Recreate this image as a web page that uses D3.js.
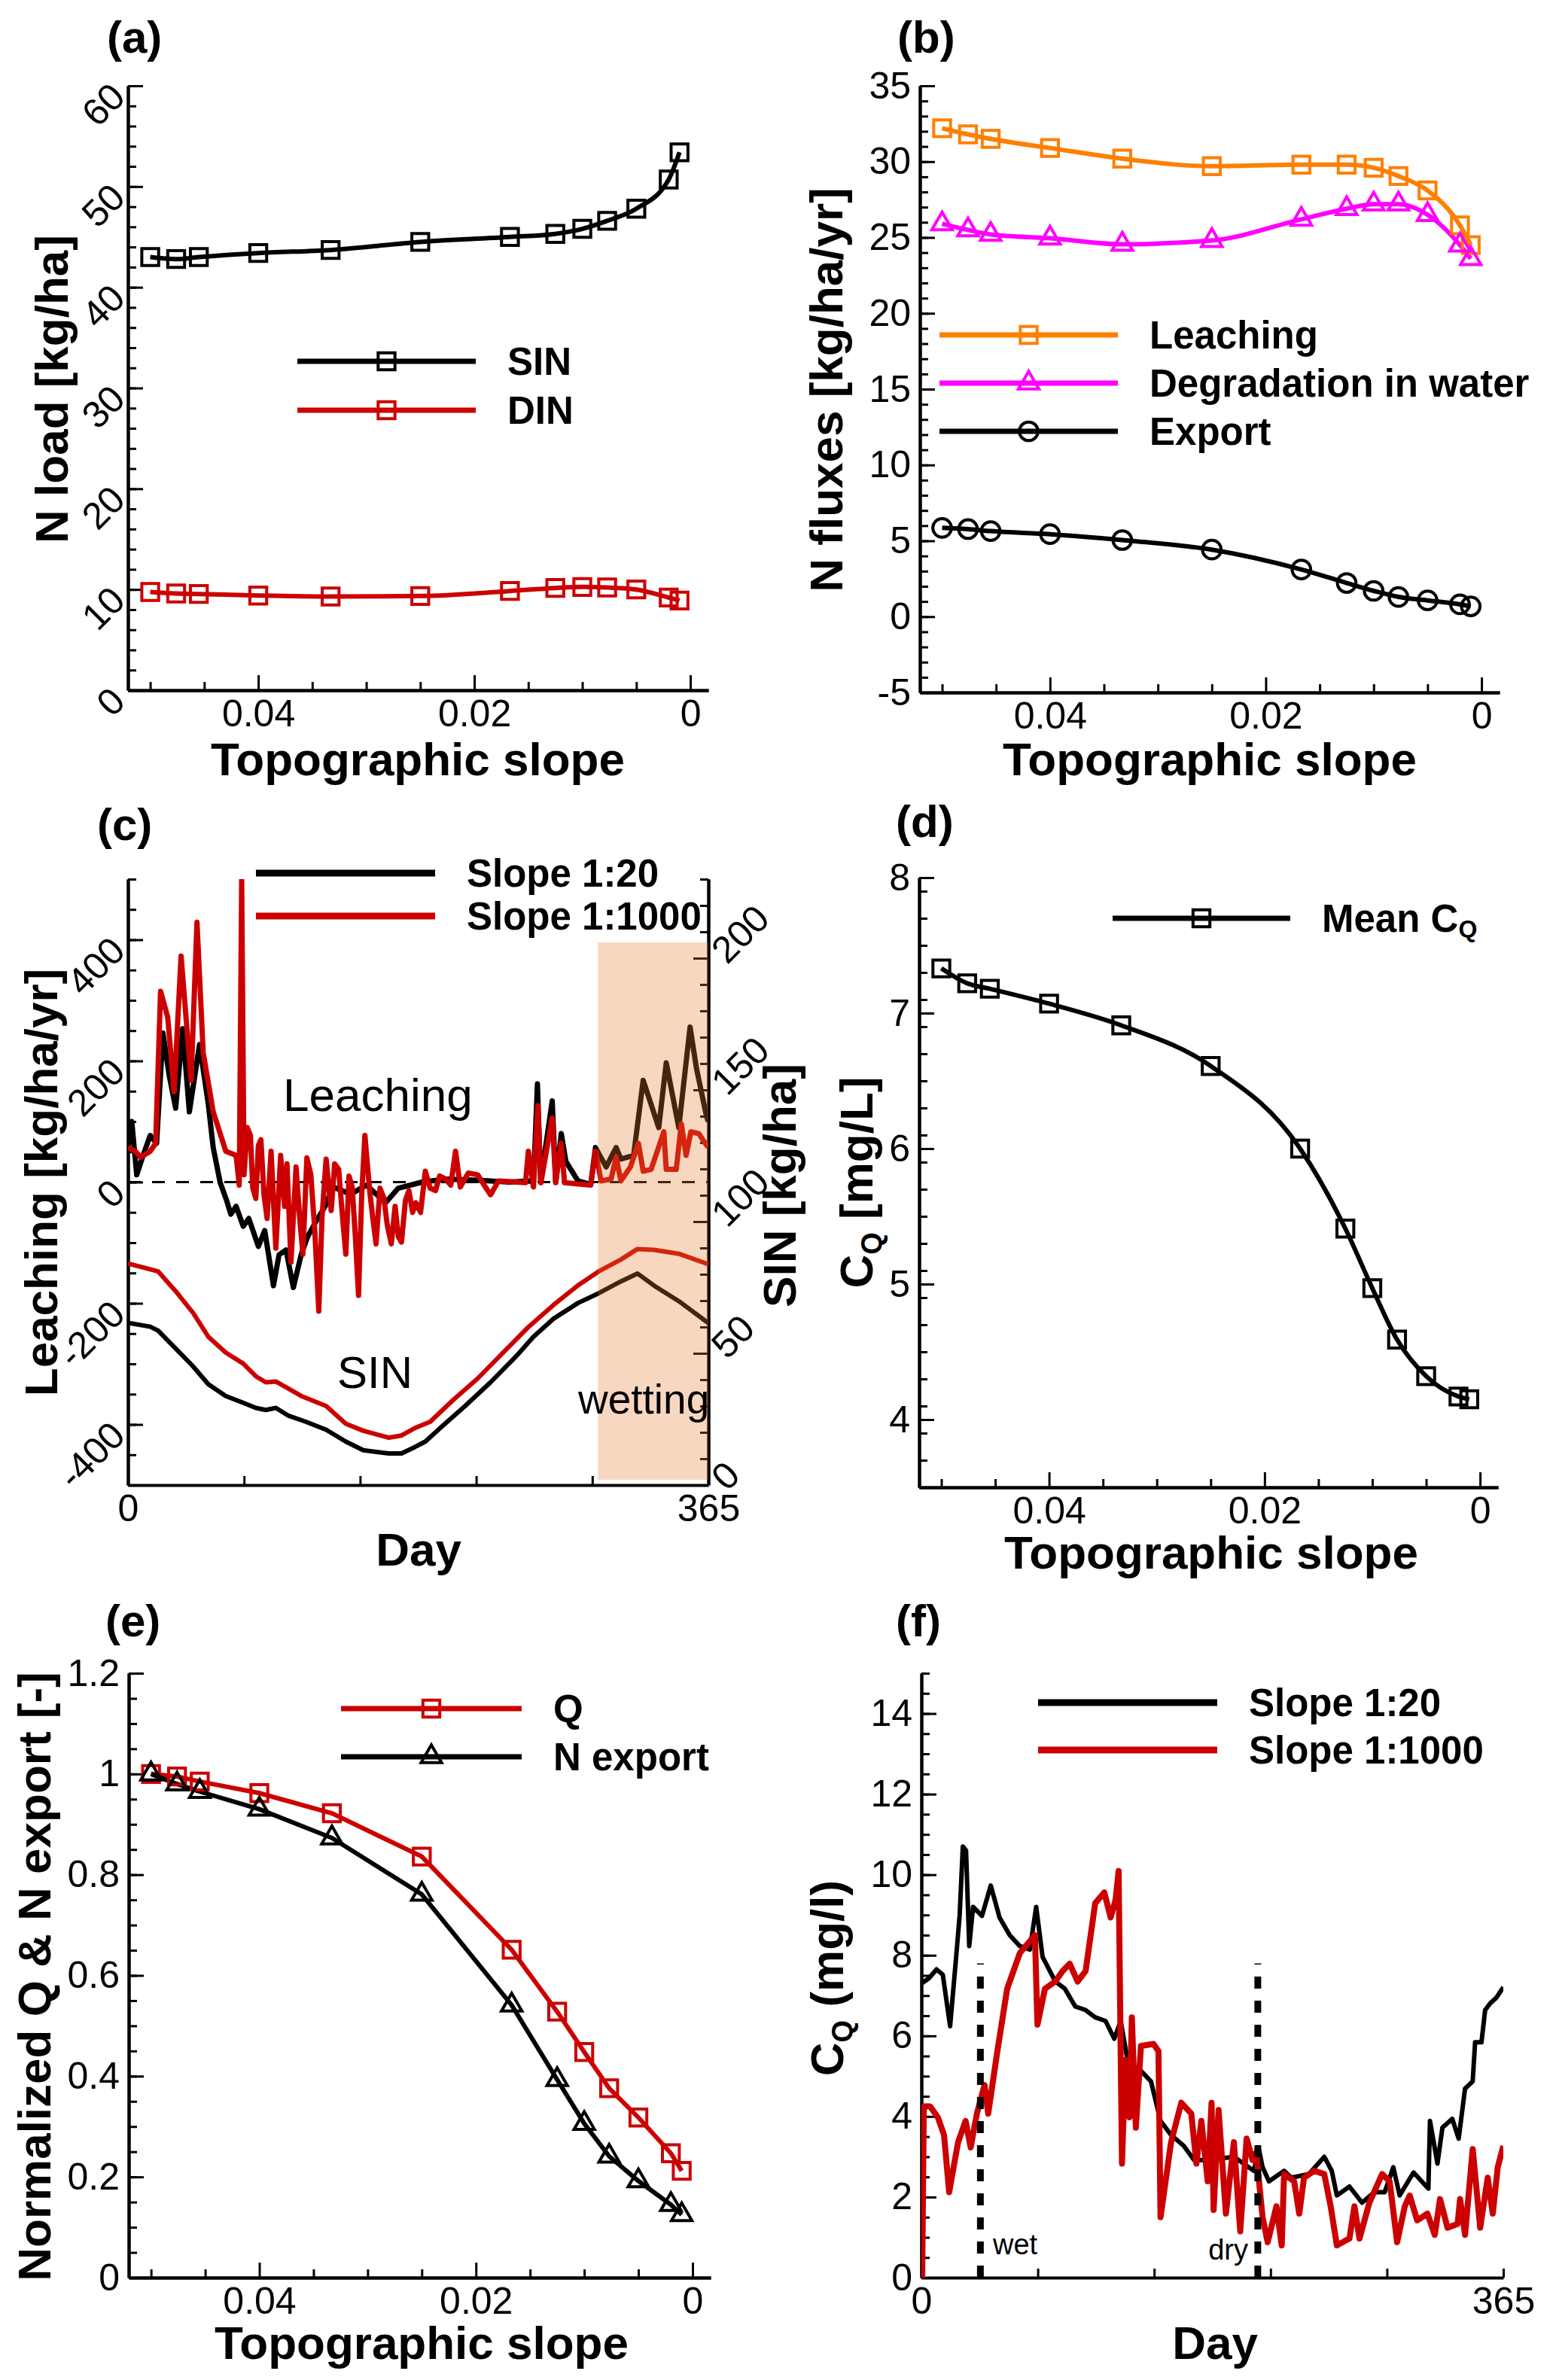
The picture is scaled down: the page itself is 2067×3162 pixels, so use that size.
<!DOCTYPE html>
<html>
<head>
<meta charset="utf-8">
<script src="https://cdn.jsdelivr.net/npm/d3@7"></script>
<style>
body{margin:0;background:#fff}
text{font-family:"Liberation Sans",Arial,Helvetica,sans-serif}
</style>
</head>
<body>
<svg id="fig" width="2067" height="3162"></svg>
<script>
// ---------- data ----------
// topographic slopes of the 13 simulated hillslopes (1:20 ... 1:1000)
var slopes = [0.05, 0.0476, 0.0455, 0.04, 0.0333, 0.025, 0.0167, 0.0125, 0.01, 0.0077, 0.005, 0.002, 0.001];

// (a) N load [kg/ha]
var sinLoad = [43.0, 42.8, 43.0, 43.4, 43.7, 44.5, 45.0, 45.3, 45.8, 46.6, 47.8, 50.7, 53.4];
var dinLoad = [9.75, 9.6, 9.55, 9.4, 9.3, 9.35, 9.85, 10.15, 10.25, 10.2, 10.0, 9.2, 8.9];

// (b) N fluxes [kg/ha/yr]
var leachFlux  = [32.2, 31.8, 31.5, 30.9, 30.2, 29.7, 29.8, 29.8, 29.6, 29.05, 28.1, 25.8, 24.5];
var degradFlux = [25.9, 25.5, 25.2, 24.95, 24.55, 24.8, 26.2, 26.9, 27.2, 27.2, 26.5, 24.5, 23.6];
var exportFlux = [5.85, 5.77, 5.64, 5.44, 5.05, 4.42, 3.11, 2.22, 1.7, 1.3, 1.07, 0.81, 0.68];

// (d) mean CQ [mg/L]
var meanCQ = [7.33, 7.22, 7.18, 7.07, 6.91, 6.61, 6.0, 5.41, 4.97, 4.59, 4.32, 4.17, 4.15];

// (e) normalized Q and N export
var normQ       = [1.0, 0.995, 0.985, 0.962, 0.922, 0.836, 0.651, 0.528, 0.448, 0.376, 0.318, 0.247, 0.212];
var normNexport = [1.0, 0.98, 0.965, 0.93, 0.873, 0.761, 0.541, 0.393, 0.306, 0.241, 0.192, 0.145, 0.125];

// (c) leaching [kg/ha/yr] by day, [day, value]
var leach20 = [[0,57],[2.4,100],[5.5,12],[9.5,44],[14,77],[18,64],[22,246],[26,175],[30,122],[34.4,253],[38.6,116],[45,227],[50.5,129],[53.6,57],[58,-1],[62,-30],[64.7,-53],[68,-40],[72.5,-73],[76,-60],[82,-106],[86,-80],[91.5,-171],[95,-120],[99.4,-112],[104,-174],[109,-119],[113,-90],[118,-66],[124,-40],[129,-8],[140,-20],[150,-5],[162,-34],[170,-10],[185,0],[200,5],[220,3],[240,0],[252,2],[255,0],[257.5,162],[259.5,0],[266.8,134],[269,0],[272.5,80],[275.4,34],[283,2],[291,-4],[294,57],[300.7,25],[307,57],[310,38],[318,44],[324,168],[333.8,90],[338.5,197],[346.4,90],[353.5,256],[357.5,188],[363.8,109],[365,100]];
var leach1000 = [[0,57],[4.7,51],[7.9,41],[14,51],[17.4,64],[20.5,315],[25,272],[29,149],[33.4,373],[39.7,168],[43.4,429],[47.3,214],[53.6,116],[58,80],[61.5,51],[68,44],[70,-5],[71.5,500],[73,12],[75,90],[77,77],[78.5,-10],[80.4,-27],[82,60],[83.6,70],[85.5,-20],[87.5,-60],[90,51],[91.5,-30],[93,-109],[96,44],[98.5,-40],[100,30],[102.5,-132],[105.7,25],[108,-60],[110,-119],[112.5,40],[115,12],[117.5,-80],[120,-213],[122,-60],[124.6,38],[127.8,-47],[130,30],[132.5,21],[135,-60],[137,-119],[139,10],[141,-8],[143,-90],[145,-187],[147,-20],[149,77],[152,-14],[154,-60],[156,-102],[158.5,-10],[161,-27],[163,-70],[165.6,-102],[168,-40],[170,-90],[172,-99],[174.5,-30],[176.7,-14],[179,-50],[181,-34],[184,-50],[187,18],[190,-10],[193.4,-14],[196,10],[199.7,5],[203,-5],[206,51],[209,-8],[214,15],[220,12],[224,-5],[228,-21],[233,2],[250,-1],[251.8,51],[255,-8],[257.8,126],[259.7,-1],[266.8,106],[269,-1],[272.3,64],[274.6,-1],[291,-5],[294,51],[297.5,2],[303.8,5],[307,41],[310,2],[316,25],[321,64],[324,18],[329,21],[337,83],[338.5,21],[344.8,21],[348,96],[351,44],[354,83],[359,80],[363.8,61],[365,58]];
// (c) SIN [kg/ha] by day (right axis)
var sin20 = [[0,61.6],[14,60.1],[19,58.6],[30,51.8],[41,45.0],[50.5,38.3],[61.5,33.8],[72.5,31.2],[80.4,29.3],[86.7,28.5],[93,29.3],[101,26.3],[112,24.0],[124.6,21.0],[137,16.5],[148,13.2],[164,12.0],[172,12.0],[180,14.3],[187,16.5],[196.6,21.8],[212,30.0],[228,39.0],[244,48.8],[255,56.3],[267.5,63.1],[283,69.1],[296,72.8],[310,77.3],[320.4,80.3],[330.6,75.8],[346.4,69.8],[365,61.5]];
var sin1000 = [[0,84.1],[19,81.1],[30,73.6],[41,65.3],[50.5,56.3],[61.5,50.3],[72.5,46.1],[80.4,41.3],[86.7,39.0],[93,39.3],[109,33.8],[124.6,30.0],[137,23.3],[148,20.6],[164,18.0],[172,18.8],[181,21.8],[190,24.0],[204.5,32.3],[220,40.5],[236,50.3],[252,60.1],[267.5,68.3],[283,75.8],[296,81.1],[310,85.6],[320.4,89.6],[330.6,89.3],[346.4,87.8],[365,83.8]];
var wettingDays = [295.5, 365];

// (f) CQ [mg/l] by day
var cq20 = [[0,7.3],[4.7,7.43],[9.5,7.65],[13.4,7.52],[18,6.24],[22,8.05],[24,9.0],[26,10.7],[28,10.6],[30,8.23],[32.4,9.2],[38,8.98],[43.5,9.73],[49,8.94],[55.4,8.5],[61.7,8.23],[68,8.14],[72,9.2],[76,7.96],[84,7.35],[90,7.17],[96.5,6.73],[103,6.64],[109,6.46],[115.5,6.37],[121,5.93],[125,6.37],[129.7,5.31],[137.7,5.13],[144,4.87],[150,3.89],[156.6,3.54],[164.6,3.27],[171,2.92],[180,2.92],[196,3.0],[208.5,2.65],[211.7,3.19],[214,2.74],[218,2.39],[227.5,2.65],[232,2.48],[243,2.57],[252.7,3.0],[257.4,2.65],[260.6,2.04],[268.5,2.26],[276.4,1.86],[284,2.12],[290.6,2.12],[296,2.74],[300,2.04],[308.7,2.61],[318,2.21],[319,3.89],[323.7,2.83],[326.8,3.72],[333,3.94],[337,3.45],[341,4.69],[345.8,4.87],[347.3,5.84],[351.3,5.84],[353.6,6.64],[356.8,6.81],[360.7,6.95],[365,7.21]];
var cq1000 = [[0.5,0],[1.5,4.25],[5.5,4.25],[10.3,3.98],[14.2,3.54],[17.4,2.12],[23,3.36],[27.7,3.89],[30.9,3.23],[34.8,4.07],[39.6,4.78],[41.9,4.07],[47.5,5.58],[53.8,7.17],[61.7,8.05],[71.2,8.5],[72.8,6.28],[77.5,7.17],[84,7.35],[88.6,7.61],[93,7.79],[98,7.35],[103,7.61],[109,9.29],[114.7,9.56],[118.7,8.94],[121.8,9.38],[123.7,10.09],[125.8,2.83],[128,5.4],[130.5,3.98],[132,6.46],[134.5,3.72],[137.7,5.75],[145.6,5.8],[148.7,5.62],[150,1.5],[156.6,3.36],[163,4.34],[169.3,4.07],[172.5,2.83],[175.6,3.89],[179.6,2.39],[182,4.34],[183.3,1.68],[186.4,4.16],[191,1.59],[196,3.36],[200,1.15],[204,3.45],[207.7,2.92],[210,3.1],[214,1.5],[217.2,0.88],[222.7,1.77],[226,0.8],[227.5,2.57],[233.8,2.39],[237,1.59],[240,2.48],[246.4,2.65],[252.7,2.57],[256.7,1.77],[260.6,0.8],[268.5,0.97],[271.6,1.77],[274.8,0.97],[281,1.86],[289,2.57],[293.7,2.39],[298.4,0.88],[303.2,1.77],[306.3,2.04],[311,1.42],[317.4,1.59],[322,1.06],[325.3,1.95],[330,1.24],[336.3,1.33],[337.9,1.95],[341,1.06],[345.8,3.19],[350.5,1.24],[355.2,2.48],[358.4,1.59],[361.5,2.74],[365,3.27]];
var wetDay = 37, dryDay = 211, markTop = 7.8;

// tick labels
var slopeTicks = [0.04, 0.02, 0];
var slopeMinor = [0.05, 0.045, 0.035, 0.03, 0.025, 0.015, 0.01, 0.005];
var dayTicks = [0, 73, 146, 219, 292, 365];
var dayLabels = [0, 365];

// ---------- helpers ----------
var svg = d3.select('#fig');
svg.append('rect').attr('width', 2067).attr('height', 3162).attr('fill', '#fff');

var RED = '#cc0000', ORANGE = '#ff7f00', MAGENTA = '#ff00ff';
var SYM = {square: d3.symbolSquare, circle: d3.symbolCircle, triangle: d3.symbolTriangle};
var SYMSIZE = {square: 500, circle: 480, triangle: 320};
var plain = function(d) { return String(d); };

function styleAxis(g) {
	g.attr('font-size', 50).attr('font-family', '"Liberation Sans",Arial,sans-serif');
	g.select('.domain').attr('stroke', '#000').attr('stroke-width', 4);
	g.selectAll('.tick line').attr('stroke', '#000').attr('stroke-width', 3);
	g.selectAll('.tick text').attr('fill', '#000');
}
// minor ticks carry no label, drop the empty text nodes
function noLabels(g) { g.selectAll('.tick text').remove(); }

function leftAxis(x0, y, major, minor, rot) {
	var g = svg.append('g').attr('transform', 'translate(' + x0 + ',0)');
	g.append('g').call(d3.axisLeft(y).tickValues(minor).tickSize(-11).tickSizeOuter(0)).call(styleAxis).call(noLabels);
	var m = g.append('g').call(d3.axisLeft(y).tickValues(major).tickSize(-20).tickSizeOuter(0).tickPadding(12).tickFormat(plain)).call(styleAxis);
	if (rot) {
		m.selectAll('.tick text').attr('x', 0).attr('dy', null).attr('dominant-baseline', 'central')
			.attr('transform', 'translate(-13,5) rotate(-45)');
	}
	return m;
}

function rightAxis(x0, y, major, minor) {
	var g = svg.append('g').attr('transform', 'translate(' + x0 + ',0)');
	g.append('g').call(d3.axisRight(y).tickValues(minor).tickSize(-11).tickSizeOuter(0)).call(styleAxis).call(noLabels);
	var m = g.append('g').call(d3.axisRight(y).tickValues(major).tickSize(-20).tickSizeOuter(0).tickFormat(plain)).call(styleAxis);
	m.selectAll('.tick text').attr('x', 0).attr('dy', null).attr('dominant-baseline', 'central')
		.attr('transform', 'translate(13,-3) rotate(-45)');
}

function slopeAxis(x, y0) {
	var g = svg.append('g').attr('transform', 'translate(0,' + y0 + ')');
	g.append('g').call(d3.axisBottom(x).tickValues(slopeMinor).tickSize(-11).tickSizeOuter(0)).call(styleAxis).call(noLabels);
	g.append('g').call(d3.axisBottom(x).tickValues(slopeTicks).tickSize(-20).tickSizeOuter(0).tickPadding(12).tickFormat(plain)).call(styleAxis);
}

function dayAxis(x, y0) {
	var g = svg.append('g').attr('transform', 'translate(0,' + y0 + ')');
	g.append('g').call(d3.axisBottom(x).tickValues(dayTicks).tickSize(-12).tickSizeOuter(0).tickPadding(12).tickFormat(plain)).call(styleAxis);
	g.selectAll('.tick text').filter(function(d) { return dayLabels.indexOf(d) < 0; }).remove();
}

function xSlope(left, right) { return d3.scaleLinear().domain([0.05206, -0.00167]).range([left, right]); }

function slopeLine(x, y, vals, color, smooth) {
	var line = d3.line().x(function(d, i) { return x(slopes[i]); }).y(function(d) { return y(d); });
	if (smooth) line.curve(d3.curveMonotoneX);
	svg.append('path').datum(vals).attr('d', line).attr('fill', 'none').attr('stroke', color).attr('stroke-width', 6);
}

function markers(x, y, vals, type, color) {
	svg.append('g').selectAll('path').data(vals).join('path')
		.attr('transform', function(d, i) { return 'translate(' + x(slopes[i]) + ',' + y(d) + ')'; })
		.attr('d', d3.symbol(SYM[type], SYMSIZE[type]))
		.attr('fill', 'none').attr('stroke', color).attr('stroke-width', 4);
}

function dayLine(x, y, pts, color, w, clip) {
	var line = d3.line().x(function(d) { return x(d[0]); }).y(function(d) { return y(d[1]); });
	svg.append('path').datum(pts).attr('d', line).attr('fill', 'none').attr('stroke', color)
		.attr('stroke-width', w).attr('stroke-linejoin', 'round').attr('clip-path', clip ? 'url(#' + clip + ')' : null);
}

function legendRow(x1, x2, y, color, lw, type, label) {
	svg.append('line').attr('x1', x1).attr('x2', x2).attr('y1', y).attr('y2', y).attr('stroke', color).attr('stroke-width', lw);
	if (type) {
		svg.append('path').attr('transform', 'translate(' + ((x1 + x2) / 2) + ',' + y + ')')
			.attr('d', d3.symbol(SYM[type], SYMSIZE[type])).attr('fill', 'none').attr('stroke', color).attr('stroke-width', 4);
	}
	return svg.append('text').attr('x', x2 + 42).attr('y', y).attr('dominant-baseline', 'central')
		.attr('font-weight', 'bold').attr('font-size', 51).text(label);
}

function yTitle(x, y, label) {
	return svg.append('text').attr('transform', 'translate(' + x + ',' + y + ') rotate(-90)')
		.attr('text-anchor', 'middle').attr('font-weight', 'bold').attr('font-size', 62).text(label);
}

function xTitle(x, y, label) {
	svg.append('text').attr('x', x).attr('y', y).attr('text-anchor', 'middle')
		.attr('font-weight', 'bold').attr('font-size', 62).text(label);
}

function panelLabel(x, y, label) {
	svg.append('text').attr('x', x).attr('y', y).attr('font-weight', 'bold').attr('font-size', 60).text(label);
}

// rotated title with a subscript Q, e.g. C_Q [mg/L]
function cqTitle(x, y, rest) {
	var t = svg.append('text').attr('transform', 'translate(' + x + ',' + y + ') rotate(-90)')
		.attr('text-anchor', 'middle').attr('font-weight', 'bold').attr('font-size', 62);
	t.append('tspan').text('C');
	t.append('tspan').attr('font-size', 38).attr('dy', 12).text('Q');
	t.append('tspan').attr('dy', -12).text(rest);
}

//---------------------(a)---------------------------------------------------
var xa = xSlope(170, 941), ya = d3.scaleLinear().domain([0, 60]).range([917, 114]);
leftAxis(170, ya, [0, 10, 20, 30, 40, 50, 60], d3.range(0, 61, 2), true);
slopeAxis(xa, 917);
slopeLine(xa, ya, sinLoad, '#000', true);
slopeLine(xa, ya, dinLoad, RED, true);
markers(xa, ya, sinLoad, 'square', '#000');
markers(xa, ya, dinLoad, 'square', RED);
legendRow(395, 632, 480, '#000', 7, 'square', 'SIN');
legendRow(395, 632, 545, RED, 7, 'square', 'DIN');
yTitle(90, 517, 'N load [kg/ha]');
xTitle(555, 1030, 'Topographic slope');
panelLabel(142, 70, '(a)');

//---------------------(b)---------------------------------------------------
var xb = xSlope(1222, 1992), yb = d3.scaleLinear().domain([-5, 35]).range([920, 114]);
leftAxis(1222, yb, [-5, 0, 5, 10, 15, 20, 25, 30, 35], d3.range(-5, 36, 1), false);
slopeAxis(xb, 920);
slopeLine(xb, yb, leachFlux, ORANGE, true);
slopeLine(xb, yb, degradFlux, MAGENTA, true);
slopeLine(xb, yb, exportFlux, '#000', true);
markers(xb, yb, leachFlux, 'square', ORANGE);
markers(xb, yb, degradFlux, 'triangle', MAGENTA);
markers(xb, yb, exportFlux, 'circle', '#000');
legendRow(1248, 1485, 445, ORANGE, 7, 'square', 'Leaching');
legendRow(1248, 1485, 509, MAGENTA, 7, 'triangle', 'Degradation in water');
legendRow(1248, 1485, 573, '#000', 7, 'circle', 'Export');
yTitle(1119, 518, 'N fluxes [kg/ha/yr]');
xTitle(1607, 1030, 'Topographic slope');
panelLabel(1192, 70, '(b)');

//---------------------(c)---------------------------------------------------
var xc = d3.scaleLinear().domain([0, 365]).range([170, 941]);
var ycL = d3.scaleLinear().domain([-500, 500]).range([1973, 1168]);
var ycR = d3.scaleLinear().domain([0, 230]).range([1973, 1168]);
svg.append('clipPath').attr('id', 'clipc').append('rect')
	.attr('x', 170).attr('y', 1168).attr('width', 771).attr('height', 805);
leftAxis(170, ycL, [-400, -200, 0, 200, 400], d3.range(-500, 501, 50), true);
rightAxis(941, ycR, [0, 50, 100, 150, 200], d3.range(0, 231, 10));
dayAxis(xc, 1973);
svg.append('line').attr('x1', xc(0)).attr('x2', xc(365)).attr('y1', ycL(0)).attr('y2', ycL(0))
	.attr('stroke', '#000').attr('stroke-width', 3).attr('stroke-dasharray', '17,15');
dayLine(xc, ycL, leach20, '#000', 7, 'clipc');
dayLine(xc, ycL, leach1000, RED, 7, 'clipc');
dayLine(xc, ycR, sin20, '#000', 6, 'clipc');
dayLine(xc, ycR, sin1000, RED, 6, 'clipc');
// wetting period, translucent overlay
svg.append('rect').attr('x', xc(wettingDays[0])).attr('width', xc(wettingDays[1]) - xc(wettingDays[0]))
	.attr('y', ycR(206)).attr('height', ycR(2) - ycR(206)).attr('fill', '#e87a30').attr('fill-opacity', 0.3);
svg.append('text').attr('x', 376).attr('y', 1476).attr('font-size', 62).text('Leaching');
svg.append('text').attr('x', 448).attr('y', 1844).attr('font-size', 60).text('SIN');
svg.append('text').attr('x', 768).attr('y', 1878).attr('font-size', 55)
	.attr('font-family', '"Liberation Serif","Times New Roman",serif').text('wetting');
legendRow(340, 578, 1160, '#000', 9, null, 'Slope 1:20');
legendRow(340, 578, 1217, RED, 9, null, 'Slope 1:1000');
yTitle(76, 1571, 'Leaching [kg/ha/yr]');
yTitle(1057, 1575, 'SIN [kg/ha]');
xTitle(556, 2080, 'Day');
panelLabel(129, 1116, '(c)');

//---------------------(d)---------------------------------------------------
var xd = xSlope(1221, 1990), yd = d3.scaleLinear().domain([3.5, 8]).range([1976, 1166]);
leftAxis(1221, yd, [4, 5, 6, 7, 8], d3.range(35, 81, 2).map(function(v) { return v / 10; }), false);
slopeAxis(xd, 1976);
slopeLine(xd, yd, meanCQ, '#000', true);
markers(xd, yd, meanCQ, 'square', '#000');
var lgd = legendRow(1478, 1714, 1220, '#000', 7, 'square', 'Mean C');
lgd.append('tspan').attr('font-size', 32).attr('dy', 14).text('Q');
cqTitle(1159, 1571, ' [mg/L]');
xTitle(1609, 2084, 'Topographic slope');
panelLabel(1190, 1112, '(d)');

//---------------------(e)---------------------------------------------------
var xe = xSlope(171, 944), ye = d3.scaleLinear().domain([0, 1.2]).range([3026, 2223]);
leftAxis(171, ye, [0, 0.2, 0.4, 0.6, 0.8, 1, 1.2], d3.range(0, 25, 1).map(function(v) { return v / 20; }), false);
slopeAxis(xe, 3026);
slopeLine(xe, ye, normQ, RED, false);
slopeLine(xe, ye, normNexport, '#000', false);
markers(xe, ye, normQ, 'square', RED);
markers(xe, ye, normNexport, 'triangle', '#000');
legendRow(453, 693, 2270, RED, 7, 'square', 'Q');
legendRow(453, 693, 2334, '#000', 7, 'triangle', 'N export');
yTitle(67, 2626, 'Normalized Q & N export [-]');
xTitle(560, 3134, 'Topographic slope');
panelLabel(140, 2174, '(e)');

//---------------------(f)---------------------------------------------------
var xf = d3.scaleLinear().domain([0, 365]).range([1224, 1997]);
var yf = d3.scaleLinear().domain([0, 15]).range([3026, 2223]);
svg.append('clipPath').attr('id', 'clipf').append('rect')
	.attr('x', 1224).attr('y', 2223).attr('width', 773).attr('height', 803);
leftAxis(1224, yf, [0, 2, 4, 6, 8, 10, 12, 14], d3.range(0, 31, 1).map(function(v) { return v / 2; }), false);
dayAxis(xf, 3026);
dayLine(xf, yf, cq20, '#000', 6, 'clipf');
dayLine(xf, yf, cq1000, RED, 8, 'clipf');
[wetDay, dryDay].forEach(function(d) {
	svg.append('line').attr('x1', xf(d)).attr('x2', xf(d)).attr('y1', yf(0)).attr('y2', yf(markTop))
		.attr('stroke', '#000').attr('stroke-width', 9).attr('stroke-dasharray', '16,16');
});
svg.append('text').attr('x', 1319).attr('y', 2995).attr('font-size', 38).text('wet');
svg.append('text').attr('x', 1658).attr('y', 3002).attr('font-size', 38).attr('text-anchor', 'end').text('dry');
legendRow(1379, 1617, 2262, '#000', 9, null, 'Slope 1:20');
legendRow(1379, 1617, 2325, RED, 9, null, 'Slope 1:1000');
var tf = svg.append('text').attr('transform', 'translate(1120,2628) rotate(-90)')
	.attr('text-anchor', 'middle').attr('font-weight', 'bold').attr('font-size', 62);
tf.append('tspan').text('C');
tf.append('tspan').attr('font-size', 38).attr('dy', 12).text('Q');
tf.append('tspan').attr('dy', -12).text(' (mg/l)');
xTitle(1614, 3134, 'Day');
panelLabel(1190, 2174, '(f)');
</script>
</body>
</html>
